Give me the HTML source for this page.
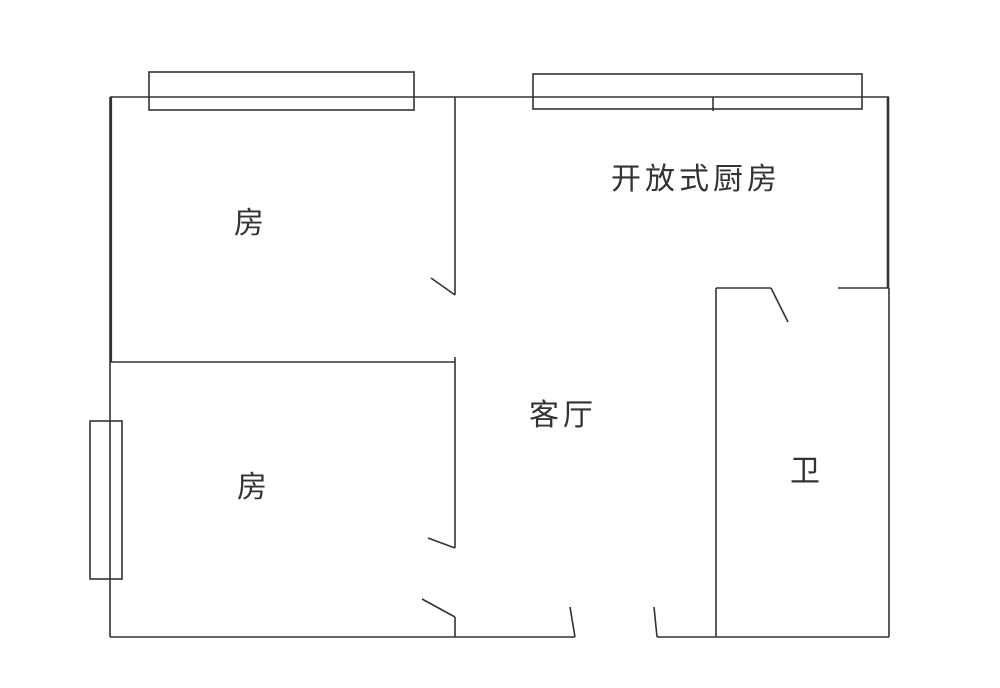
<!DOCTYPE html>
<html><head><meta charset="utf-8"><style>
html,body{margin:0;padding:0;background:#fff;width:1000px;height:688px;overflow:hidden}
svg text{font-family:"Liberation Sans","Noto Sans CJK SC","WenQuanYi Zen Hei",sans-serif;fill:#333}
</style></head><body>
<svg width="1000" height="688" viewBox="0 0 1000 688" xmlns="http://www.w3.org/2000/svg">
<g stroke="#333" stroke-width="1.6" fill="none">
<!-- top wall -->
<line x1="110" y1="97" x2="889" y2="97"/>
<!-- left wall -->
<line x1="110" y1="97" x2="110" y2="637" stroke-width="1.6"/>
<line x1="111" y1="97" x2="111" y2="362" stroke-width="2.2"/>
<!-- right wall -->
<line x1="888" y1="97" x2="888" y2="288" stroke-width="2.6"/>
<line x1="889" y1="288" x2="889" y2="637"/>
<!-- windows -->
<rect x="149" y="72" width="265" height="38"/>
<rect x="533" y="74" width="329" height="35"/>
<line x1="713" y1="97" x2="713" y2="111"/>
<rect x="90" y="421" width="32" height="158"/>
<!-- partition upper -->
<line x1="455" y1="97" x2="455" y2="295"/>
<line x1="431" y1="278" x2="455" y2="295"/>
<!-- middle horizontal -->
<line x1="110" y1="362" x2="455" y2="362"/>
<line x1="455" y1="357" x2="455" y2="548"/>
<line x1="428" y1="538" x2="455" y2="548"/>
<!-- lower door -->
<line x1="422" y1="599" x2="455" y2="617"/>
<line x1="455" y1="617" x2="455" y2="637"/>
<!-- bottom wall -->
<line x1="110" y1="637" x2="575" y2="637"/>
<line x1="570" y1="607" x2="575" y2="637"/>
<line x1="654" y1="607" x2="657" y2="637"/>
<line x1="657" y1="637" x2="889" y2="637"/>
<!-- bathroom -->
<line x1="716" y1="288" x2="716" y2="637"/>
<line x1="716" y1="288" x2="771" y2="288"/>
<line x1="771" y1="288" x2="788" y2="322"/>
<line x1="838" y1="288" x2="889" y2="288"/>
</g>
<text x="249" y="233" font-size="30" text-anchor="middle">房</text>
<text x="252" y="497" font-size="30" text-anchor="middle">房</text>
<text x="611" y="189" font-size="30" letter-spacing="4">开放式厨房</text>
<text x="529" y="425" font-size="30" letter-spacing="4">客厅</text>
<text x="805" y="481" font-size="30" text-anchor="middle">卫</text>
</svg>
</body></html>
